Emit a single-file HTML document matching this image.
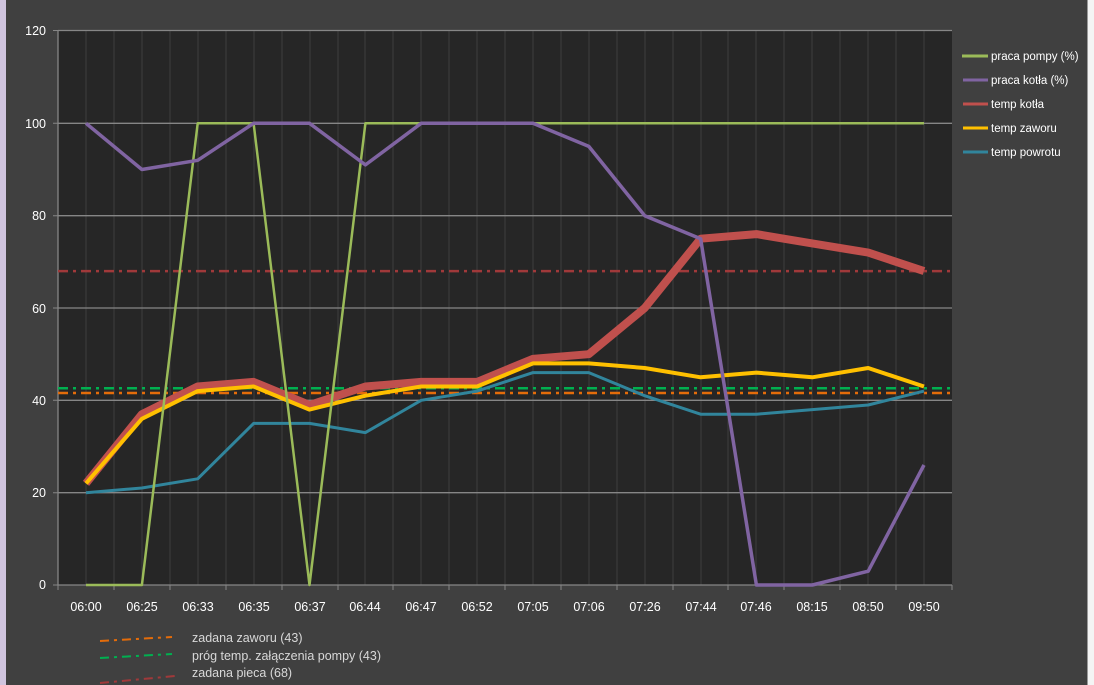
<!DOCTYPE html>
<html><head><meta charset="utf-8"><style>
html,body{margin:0;padding:0;background:#404040;}
svg{display:block;font-family:"Liberation Sans",sans-serif;}
</style></head><body>
<svg width="1094" height="685" viewBox="0 0 1094 685" xmlns="http://www.w3.org/2000/svg">
<rect x="0" y="0" width="1094" height="685" fill="#404040"/>
<rect x="0" y="0" width="6" height="685" fill="#d0c4de"/>
<rect x="1087" y="0" width="7" height="685" fill="#f4f4f4"/>
<rect x="1087" y="0" width="1" height="685" fill="#9a9a9a"/>
<rect x="58" y="30" width="894" height="555" fill="#262626"/>
<g stroke="#3e3e3e" stroke-width="1">
<path d="M86 30V585M114 30V585M142 30V585M170 30V585M198 30V585M226 30V585M254 30V585M282 30V585M310 30V585M338 30V585M365 30V585M393 30V585M421 30V585M449 30V585M477 30V585M505 30V585M533 30V585M561 30V585M589 30V585M617 30V585M645 30V585M673 30V585M701 30V585M728 30V585M756 30V585M784 30V585M812 30V585M840 30V585M868 30V585M896 30V585M924 30V585"/>
</g>
<g stroke="#868686" stroke-width="1.3">
<path d="M58 30.5H952M58 123.3H952M58 215.7H952M58 308H952M58 400.3H952M58 492.7H952"/>
</g>
<path d="M58 30V585H952" stroke="#868686" stroke-width="1.3" fill="none"/>
<g stroke="#868686" stroke-width="1"><path d="M53 30.5H58M53 123.3H58M53 215.7H58M53 308H58M53 400.3H58M53 492.7H58M53 585H58M58 585V590M114 585V590M170 585V590M226 585V590M282 585V590M338 585V590M393 585V590M449 585V590M505 585V590M561 585V590M617 585V590M673 585V590M728 585V590M784 585V590M840 585V590M896 585V590M952 585V590"/></g>
<g fill="#ffffff" font-size="12.5" text-anchor="end">
<text x="46" y="35">120</text><text x="46" y="128">100</text><text x="46" y="220">80</text><text x="46" y="313">60</text><text x="46" y="405">40</text><text x="46" y="497">20</text><text x="46" y="589">0</text>
</g>
<g fill="#ffffff" font-size="12.5" text-anchor="middle">
<text x="86" y="611">06:00</text><text x="142" y="611">06:25</text><text x="198" y="611">06:33</text><text x="254" y="611">06:35</text><text x="310" y="611">06:37</text><text x="365" y="611">06:44</text><text x="421" y="611">06:47</text><text x="477" y="611">06:52</text><text x="533" y="611">07:05</text><text x="589" y="611">07:06</text><text x="645" y="611">07:26</text><text x="701" y="611">07:44</text><text x="756" y="611">07:46</text><text x="812" y="611">08:15</text><text x="868" y="611">08:50</text><text x="924" y="611">09:50</text>
</g>
<g fill="none" stroke-width="2.5" stroke-dasharray="10,5,3,5">
<path d="M58 271.1H952" stroke="#a0393a"/>
<path d="M58 388.3H952" stroke="#00b050"/>
<path d="M58 393H952" stroke="#e46c0a"/>
</g>
<g fill="none" stroke-linejoin="round">
<polyline stroke="#31859c" stroke-width="3" points="86,492.7 141.9,488 197.7,478.8 253.6,423.4 309.5,423.4 365.4,432.6 421.2,400.3 477.1,391.1 533,372.6 588.8,372.6 644.7,395.7 700.6,414.2 756.4,414.2 812.3,409.6 868.2,405 924,391.1"/>
<polyline stroke="#c0504d" stroke-width="8" points="86,483.4 141.9,414.2 197.7,386.5 253.6,381.9 309.5,405 365.4,386.5 421.2,381.9 477.1,381.9 533,358.8 588.8,354.2 644.7,308 700.6,238.7 756.4,234.1 812.3,243.4 868.2,252.6 924,271.1"/>
<polyline stroke="#ffc000" stroke-width="4" points="86,483.4 141.9,418.8 197.7,391.1 253.6,386.5 309.5,409.6 365.4,395.7 421.2,386.5 477.1,386.5 533,363.4 588.8,363.4 644.7,368 700.6,377.3 756.4,372.6 812.3,377.3 868.2,368 924,386.5"/>
<polyline stroke="#9bbb59" stroke-width="2.5" points="86,585 141.9,585 197.7,123.3 253.6,123.3 309.5,585 365.4,123.3 421.2,123.3 477.1,123.3 533,123.3 588.8,123.3 644.7,123.3 700.6,123.3 756.4,123.3 812.3,123.3 868.2,123.3 924,123.3"/>
<polyline stroke="#8064a2" stroke-width="3.5" points="86,123.3 141.9,169.5 197.7,160.3 253.6,123.3 309.5,123.3 365.4,164.9 421.2,123.3 477.1,123.3 533,123.3 588.8,146.4 644.7,215.7 700.6,238.7 756.4,585 812.3,585 868.2,571.2 924,465"/>
</g>
<g stroke-width="3">
<path d="M962 56H988" stroke="#9bbb59"/>
<path d="M963 80H988" stroke="#8064a2"/>
<path d="M963 104H988" stroke="#c0504d"/>
<path d="M963 128H988" stroke="#ffc000"/>
<path d="M963 152H988" stroke="#31859c"/>
</g>
<g fill="#ffffff" font-size="11.5">
<text x="991" y="60">praca pompy (%)</text>
<text x="991" y="84">praca kotła (%)</text>
<text x="991" y="108">temp kotła</text>
<text x="991" y="132">temp zaworu</text>
<text x="991" y="156">temp powrotu</text>
</g>
<g fill="none" stroke-width="2" stroke-dasharray="9,5,3,5">
<path d="M100 641L172 637" stroke="#e46c0a"/>
<path d="M100 658L172 654" stroke="#00b050"/>
<path d="M100 683L175 676" stroke="#a0393a"/>
</g>
<g fill="#d8d8d8" font-size="12.5">
<text x="192" y="642">zadana zaworu (43)</text>
<text x="192" y="660">próg temp. załączenia pompy (43)</text>
<text x="192" y="677">zadana pieca (68)</text>
</g>
</svg>
</body></html>
